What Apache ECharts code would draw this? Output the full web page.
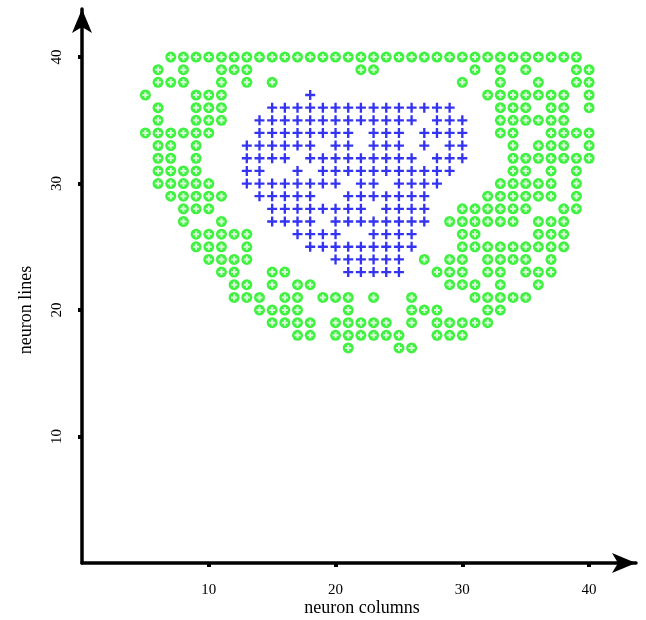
<!DOCTYPE html>
<html>
<head>
<meta charset="utf-8">
<script src="https://cdn.jsdelivr.net/npm/echarts@6/dist/echarts.min.js"></script>
<style>
  html, body { margin: 0; padding: 0; background: #ffffff; }
  #chart { width: 646px; height: 620px; }
</style>
</head>
<body>
<div id="chart"></div>
<script>
// Neuron lines (y) of the map, top to bottom
const lineRows = [40, 39, 38, 37, 36, 35, 34, 33, 32, 31, 30, 29, 28, 27, 26, 25, 24, 23, 22, 21, 20, 19, 18, 17];

// Columns of the green (ring) neurons on each line
const greenColumns = [
  [7, 8, 9, 10, 11, 12, 13, 14, 15, 16, 17, 18, 19, 20, 21, 22, 23, 24, 25, 26, 27, 28, 29, 30, 31, 32, 33, 34, 35, 36, 37, 38, 39],
  [6, 8, 11, 12, 13, 22, 23, 31, 33, 35, 39, 40],
  [6, 7, 8, 11, 13, 15, 30, 33, 36, 39, 40],
  [5, 9, 10, 11, 32, 33, 34, 35, 36, 37, 38, 40],
  [6, 9, 10, 11, 33, 34, 35, 37, 38, 40],
  [6, 9, 10, 11, 33, 34, 35, 36, 37, 38],
  [5, 6, 7, 8, 9, 10, 33, 34, 37, 38, 39, 40],
  [6, 7, 9, 34, 36, 37, 38, 40],
  [6, 7, 9, 34, 35, 36, 37, 38, 39, 40],
  [6, 7, 8, 9, 34, 35, 37, 39],
  [6, 7, 8, 9, 10, 33, 34, 35, 36, 37, 39],
  [7, 8, 9, 10, 11, 32, 33, 34, 35, 36, 37, 39],
  [8, 9, 10, 30, 31, 32, 33, 34, 35, 38, 39],
  [8, 11, 29, 30, 31, 32, 33, 34, 36, 37, 38],
  [9, 10, 11, 12, 13, 30, 31, 36, 37, 38],
  [9, 10, 11, 13, 30, 31, 32, 33, 34, 35, 36, 37, 38],
  [10, 11, 12, 13, 27, 29, 30, 32, 33, 34, 35, 37],
  [11, 12, 15, 16, 28, 29, 30, 32, 33, 35, 36, 37],
  [12, 13, 15, 17, 18, 29, 30, 31, 33, 36],
  [12, 13, 14, 16, 17, 19, 20, 21, 23, 26, 31, 32, 33, 34, 35],
  [14, 15, 16, 17, 21, 26, 27, 28, 32, 33],
  [15, 16, 17, 18, 20, 21, 22, 23, 24, 26, 28, 29, 30, 31, 32],
  [17, 18, 20, 21, 22, 23, 24, 25, 28, 29, 30],
  [21, 25, 26]
];

// Columns of the blue (cross) neurons on each line
const blueColumns = [
  [],
  [],
  [],
  [18],
  [15, 16, 17, 18, 19, 20, 21, 22, 23, 24, 25, 26, 27, 28, 29],
  [14, 15, 16, 17, 18, 19, 20, 21, 22, 23, 24, 25, 26, 28, 29, 30],
  [14, 15, 16, 17, 18, 19, 20, 21, 23, 24, 25, 27, 28, 29, 30],
  [13, 14, 15, 16, 17, 18, 20, 21, 23, 24, 25, 27, 29, 30],
  [13, 14, 15, 16, 18, 19, 20, 21, 22, 23, 24, 25, 26, 28, 29, 30],
  [13, 14, 17, 19, 20, 21, 22, 23, 24, 25, 26, 27, 28, 29],
  [13, 14, 15, 16, 17, 18, 19, 20, 22, 23, 25, 26, 27, 28],
  [14, 15, 16, 17, 18, 21, 22, 23, 24, 25, 26, 27],
  [15, 16, 17, 18, 19, 20, 21, 22, 24, 25, 26, 27],
  [15, 16, 17, 18, 20, 21, 22, 23, 24, 25, 26, 27],
  [17, 18, 19, 20, 23, 24, 25, 26],
  [18, 19, 20, 21, 22, 23, 24, 25, 26],
  [20, 21, 22, 23, 24, 25],
  [21, 22, 23, 24, 25],
  [],
  [],
  [],
  [],
  [],
  []
];

// Axis tick values
const tickValues = [10, 20, 30, 40];

function toPoints(columnsPerRow) {
  const pts = [];
  columnsPerRow.forEach(function (cols, i) {
    cols.forEach(function (c) { pts.push([c, lineRows[i]]); });
  });
  return pts;
}

const greenPoints = toPoints(greenColumns);
const bluePoints = toPoints(blueColumns);

// Plus-shaped marker paths: cross for blue neurons, stubby cross cut into the green rings
const crossPath = 'path://M-1.4,-6L1.4,-6L1.4,-1.4L6,-1.4L6,1.4L1.4,1.4L1.4,6L-1.4,6L-1.4,1.4L-6,1.4L-6,-1.4L-1.4,-1.4Z';
const notchPath = 'path://M-2,-6L2,-6L2,-2L6,-2L6,2L2,2L2,6L-2,6L-2,2L-6,2L-6,-2L-2,-2Z';
const serif = 'Liberation Serif';

const axisCommon = {
  type: 'value',
  min: 0,
  interval: 10,
  splitLine: { show: false },
  axisLine: {
    show: true,
    symbol: ['none', 'arrow'],
    symbolSize: [15, 24],
    lineStyle: { color: '#000000', width: 3.5 }
  },
  axisTick: {
    show: true,
    customValues: tickValues,
    length: 4,
    lineStyle: { color: '#000000', width: 4 }
  },
  axisLabel: {
    customValues: tickValues,
    color: '#000000',
    fontFamily: serif,
    fontSize: 15,
    margin: 20
  }
};

const chart = echarts.init(document.getElementById('chart'), null, { renderer: 'canvas' });
chart.setOption({
  animation: false,
  backgroundColor: '#ffffff',
  grid: { left: 82, right: 10, top: 9, bottom: 57 },
  xAxis: Object.assign({}, axisCommon, { max: 43.7 }),
  yAxis: Object.assign({}, axisCommon, {
    max: 43.8,
    axisLabel: Object.assign({}, axisCommon.axisLabel, { rotate: 90, margin: 17 })
  }),
  graphic: [
    {
      type: 'text', x: 362, y: 608,
      style: { text: 'neuron columns', fill: '#000000', font: '18px "Liberation Serif"', align: 'center', verticalAlign: 'middle' }
    },
    {
      type: 'text', x: 26, y: 310, rotation: Math.PI / 2,
      style: { text: 'neuron lines', fill: '#000000', font: '18px "Liberation Serif"', align: 'center', verticalAlign: 'middle' }
    }
  ],
  series: [
    {
      name: 'green', type: 'scatter', data: greenPoints,
      symbol: 'circle', symbolSize: 11,
      itemStyle: { color: '#11ee11' }, silent: true
    },
    {
      name: 'greenCentre', type: 'scatter', data: greenPoints,
      symbol: notchPath, symbolSize: 6,
      itemStyle: { color: '#ffffff' }, silent: true
    },
    {
      name: 'blue', type: 'scatter', data: bluePoints,
      symbol: crossPath, symbolSize: 10,
      itemStyle: { color: '#0000ee' }, silent: true
    }
  ]
});
</script>
</body>
</html>
